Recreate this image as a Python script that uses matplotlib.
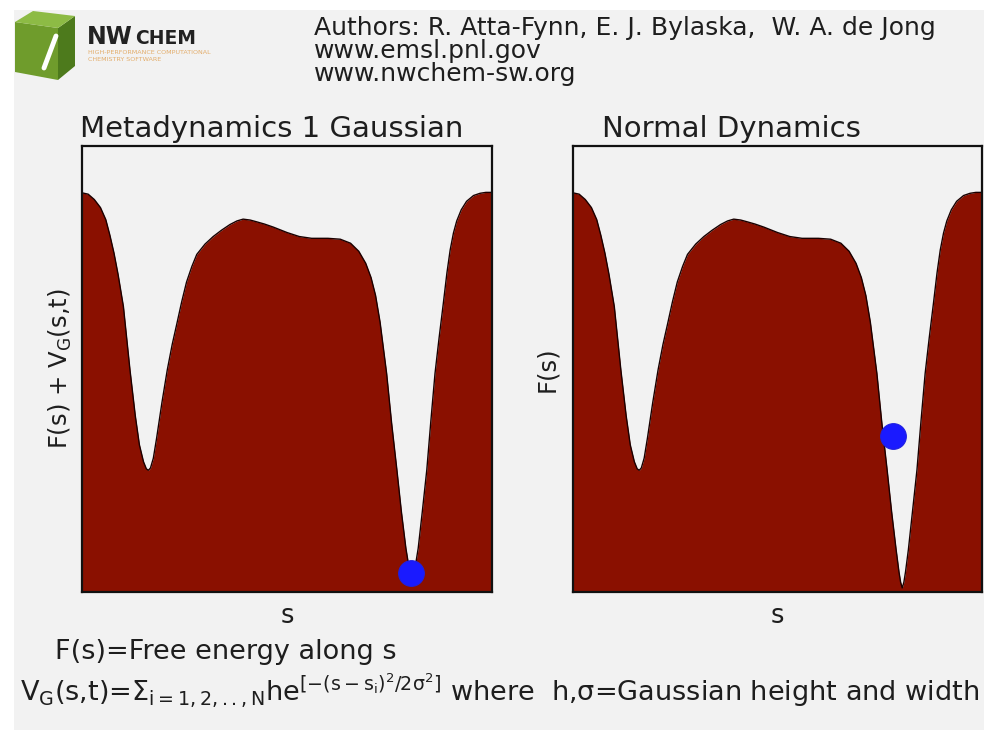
import matplotlib
matplotlib.use("Agg")
import matplotlib.pyplot as plt
from matplotlib.patches import Polygon, Rectangle

# ---- data (normalized reaction coordinate s and free energy) ----
s_vals = [0.000, 0.015, 0.030, 0.045, 0.058, 0.068, 0.078, 0.088, 0.101, 0.117,
          0.130, 0.140, 0.150, 0.157, 0.162, 0.167, 0.174, 0.182, 0.195, 0.208,
          0.220, 0.231, 0.243, 0.255, 0.268, 0.280, 0.300, 0.320, 0.340, 0.361,
          0.378, 0.393, 0.410, 0.426, 0.445, 0.467, 0.500, 0.530, 0.560, 0.600,
          0.630, 0.655, 0.675, 0.692, 0.705, 0.716, 0.727, 0.743, 0.755, 0.768,
          0.779, 0.790, 0.797, 0.801, 0.805, 0.809, 0.813, 0.820, 0.830, 0.841,
          0.851, 0.861, 0.871, 0.881, 0.890, 0.898, 0.906, 0.914, 0.925, 0.938,
          0.955, 0.971, 0.985, 1.000]
F_normal = [0.895, 0.892, 0.880, 0.862, 0.835, 0.800, 0.760, 0.712, 0.640, 0.498,
            0.395, 0.330, 0.292, 0.276, 0.273, 0.278, 0.300, 0.345, 0.425, 0.498,
            0.555, 0.600, 0.650, 0.695, 0.730, 0.757, 0.780, 0.797, 0.811, 0.824,
            0.832, 0.836, 0.834, 0.830, 0.825, 0.818, 0.806, 0.797, 0.793, 0.793,
            0.791, 0.782, 0.764, 0.737, 0.705, 0.665, 0.605, 0.490, 0.380, 0.274,
            0.180, 0.095, 0.045, 0.022, 0.009, 0.022, 0.045, 0.095, 0.180, 0.274,
            0.385, 0.490, 0.570, 0.645, 0.715, 0.767, 0.805, 0.832, 0.857, 0.876,
            0.889, 0.894, 0.896, 0.896]
F_meta = [0.895, 0.892, 0.880, 0.862, 0.835, 0.800, 0.760, 0.712, 0.640, 0.498,
          0.395, 0.330, 0.292, 0.276, 0.273, 0.278, 0.300, 0.345, 0.425, 0.498,
          0.555, 0.600, 0.650, 0.695, 0.730, 0.757, 0.780, 0.797, 0.811, 0.824,
          0.832, 0.836, 0.834, 0.830, 0.825, 0.818, 0.806, 0.797, 0.793, 0.793,
          0.791, 0.782, 0.764, 0.737, 0.705, 0.665, 0.605, 0.490, 0.380, 0.274,
          0.180, 0.098, 0.058, 0.042, 0.036, 0.042, 0.058, 0.098, 0.180, 0.274,
          0.385, 0.490, 0.570, 0.645, 0.715, 0.767, 0.805, 0.832, 0.857, 0.876,
          0.889, 0.894, 0.896, 0.896]
ball_meta = (0.803, 0.042)
ball_normal = (0.783, 0.350)

titles = ["Metadynamics 1 Gaussian", "Normal Dynamics"]
ylabels = [r"F(s) + V$_\mathregular{G}$(s,t)", "F(s)"]

W, H = 984, 738
fig = plt.figure(figsize=(W / 100, H / 100), dpi=100, facecolor="white")

# background / header layer in pixel coordinates
bg = fig.add_axes([0, 0, 1, 1], zorder=-1)
bg.set_xlim(0, W)
bg.set_ylim(H, 0)
bg.axis("off")
bg.add_patch(Rectangle((14, 10), W - 14, H - 18, facecolor="#f2f2f2", edgecolor="none"))

# logo cube
bg.add_patch(Polygon([(15, 22), (58, 28), (58, 80), (15, 72)], closed=True,
                     facecolor="#6f9c2c", edgecolor="none"))
bg.add_patch(Polygon([(58, 28), (75, 16), (75, 66), (58, 80)], closed=True,
                     facecolor="#4d7a1c", edgecolor="none"))
bg.add_patch(Polygon([(15, 22), (33, 11), (75, 16), (58, 28)], closed=True,
                     facecolor="#8dbb45", edgecolor="none"))
bg.plot([44, 56], [68, 36], color="white", lw=3.5, solid_capstyle="round")
bg.text(87, 44, "NW", fontsize=17, fontweight="bold", color="#222222",
        family="DejaVu Sans", va="baseline")
bg.text(135, 44, "CHEM", fontsize=13.5, fontweight="bold", color="#222222",
        family="DejaVu Sans", va="baseline")
bg.text(88, 54, "HIGH-PERFORMANCE COMPUTATIONAL", fontsize=4.6, color="#e3ad6b",
        va="baseline")
bg.text(88, 61, "CHEMISTRY SOFTWARE", fontsize=4.6, color="#e3ad6b", va="baseline")

hdr_kw = dict(fontsize=18, color="#1e1e1e", va="baseline", family="DejaVu Sans")
bg.text(314, 35, "Authors: R. Atta-Fynn, E. J. Bylaska,  W. A. de Jong", **hdr_kw)
bg.text(314, 58, "www.emsl.pnl.gov", **hdr_kw)
bg.text(314, 81, "www.nwchem-sw.org", **hdr_kw)

# panel titles
bg.text(80, 137, titles[0], fontsize=21, color="#1e1e1e", va="baseline")
bg.text(602, 137, titles[1], fontsize=21, color="#1e1e1e", va="baseline")

# bottom text
bg.text(55, 659, "F(s)=Free energy along s", fontsize=19.5, color="#1e1e1e",
        va="baseline")
bg.text(20, 701,
        r"V$_\mathregular{G}$(s,t)=$\mathregular{\Sigma_{i=1,2,..,N}he^{[-(s-s_i)^2/2\sigma^2]}}$"
        r" where  h,$\mathregular{\sigma}$=Gaussian height and width",
        fontsize=19.5, color="#1e1e1e", va="baseline")

fill_col = "#8a1000"
panels = [
    ([82 / W, (H - 592) / H, 410 / W, 446 / H], F_meta, ball_meta),
    ([573 / W, (H - 592) / H, 409 / W, 446 / H], F_normal, ball_normal),
]
for i, (rect, F, ball) in enumerate(panels):
    ax = fig.add_axes(rect)
    ax.set_facecolor("#f2f2f2")
    ax.fill_between(s_vals, 0, F, color=fill_col, lw=0)
    ax.plot(s_vals, F, color="#1a0000", lw=1.0)
    ax.plot([ball[0]], [ball[1]], "o", ms=18.5, color="#1a1aff", mec="#2020e0",
            mew=0.8, zorder=5)
    ax.set_xlim(0, 1)
    ax.set_ylim(0, 1)
    ax.set_xticks([])
    ax.set_yticks([])
    for sp in ax.spines.values():
        sp.set_linewidth(1.6)
        sp.set_color("#111111")
    ax.set_xlabel("s", fontsize=18.5, color="#1e1e1e", labelpad=8)
    ax.set_ylabel(ylabels[i], fontsize=17.5, color="#1e1e1e",
                  labelpad=6 if i == 0 else 10)

fig.savefig("out.png", dpi=100, facecolor="white")
